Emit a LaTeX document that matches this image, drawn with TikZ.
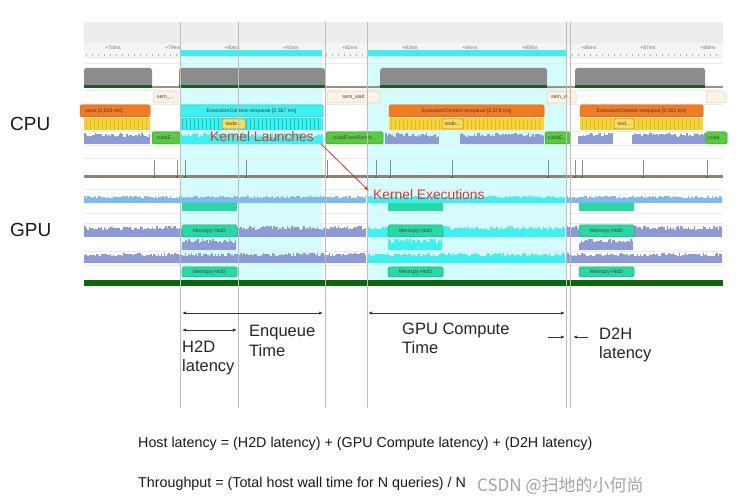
\documentclass[tikz,border=0pt]{standalone}
\usepackage{fontspec}
\setmainfont{Liberation Sans}
\newfontfamily\cjk{Noto Sans CJK SC}
\usetikzlibrary{arrows.meta}
\definecolor{hdr}{HTML}{EDEDED}
\definecolor{rul}{HTML}{F5F5F5}
\definecolor{hl}{HTML}{D4FEFE}
\definecolor{hlstrip}{HTML}{3DEFEF}
\definecolor{vline}{HTML}{BDBDBD}
\definecolor{blk}{HTML}{8C8C8C}
\definecolor{dgreen}{HTML}{1F5A2E}
\definecolor{mbrown}{HTML}{A48E80}
\definecolor{cream}{HTML}{FFF4E4}
\definecolor{creamb}{HTML}{E2C9A8}
\definecolor{orng}{HTML}{F47B20}
\definecolor{orngb}{HTML}{D0600E}
\definecolor{cyn}{HTML}{3CF1F1}
\definecolor{cynb}{HTML}{1CC4C4}
\definecolor{ylw}{HTML}{F6D53A}
\definecolor{ylwd}{HTML}{E4BC1C}
\definecolor{peri}{HTML}{8D9AD8}
\definecolor{grn}{HTML}{5ACB40}
\definecolor{grnb}{HTML}{2F9A22}
\definecolor{ltblue}{HTML}{7CBAF0}
\definecolor{mteal}{HTML}{26DAA4}
\definecolor{mtealb}{HTML}{12A87A}
\definecolor{barg}{HTML}{0B650B}
\definecolor{kred}{HTML}{E8302C}
\definecolor{wmk}{HTML}{A3A3A3}
\definecolor{dimc}{HTML}{333333}
\newcommand\mywave[5]{%
  \pgfmathtruncatemacro\wvn{max(0,(#3-#2)/1.5-1)}%
  \foreach \i in {0,...,\wvn}{%
    \fill[#1] ({#2+1.5*\i},#5) rectangle ({#2+1.5*\i+1.5},{#4+(#5-#4)*(0.08+0.32*rnd)});}%
}
\newcommand\mystripe[6]{%
  \fill[#1] (#3,#5) rectangle (#4,#6);
  \pgfmathtruncatemacro\stn{max(0,(#4-#3)/4-1)}%
  \foreach \k in {0,...,\stn}{\draw[#2, line width=0.5pt] ({#3+2+4*\k},#5) -- ({#3+2+4*\k},#6);}%
}
\newcommand\mybox[6]{%
  \draw[#1] (#2,#3) rectangle (#4,#5);
  \node[tinyt] at ({(#2+#4)/2},{(#3+#5)/2}) {#6};%
}
\begin{document}
\begin{tikzpicture}[x=1pt,y=-1pt,
  lab/.style={font=\fontsize{16.5}{19}\selectfont, inner sep=0pt, anchor=base west, text=black!85},
  frm/.style={font=\fontsize{14.3}{17}\selectfont, inner sep=0pt, anchor=base west, text=black!90},
  side/.style={font=\fontsize{19}{22}\selectfont, inner sep=0pt, anchor=base west, text=black!90},
  klab/.style={font=\fontsize{13.8}{16}\selectfont, inner sep=0pt, anchor=base west, text=kred},
  tinyt/.style={font=\fontsize{5.2}{6}\selectfont, inner sep=0pt, text=black!75},
  rulet/.style={font=\fontsize{5}{6}\selectfont, inner sep=0pt, text=black!55},
  semb/.style={fill=cream, draw=creamb, line width=0.5pt, rounded corners=1.5pt},
  orb/.style={fill=orng, draw=orngb, line width=0.5pt, rounded corners=1.5pt},
  cyb/.style={fill=cyn, draw=cynb, line width=0.5pt, rounded corners=1.5pt},
  ndb/.style={fill=ylw!80!white, draw=ylwd!80!black, line width=0.5pt, rounded corners=1.5pt},
  cub/.style={fill=grn, draw=grnb, line width=0.5pt, rounded corners=1.5pt},
  teb/.style={fill=mteal, draw=mtealb, line width=0.5pt, rounded corners=1.5pt},
  sep/.style={draw=black!8, line width=0.5pt},
  vl/.style={draw=vline, line width=0.9pt},
  dimarrow/.style={draw=dimc, line width=0.8pt, {Latex[length=4pt,width=3.2pt]}-{Latex[length=4pt,width=3.2pt]}},
  onearrow/.style={draw=dimc, line width=0.8pt, -{Latex[length=4pt,width=3.2pt]}},
  karrow/.style={draw=kred, line width=0.8pt, -{Latex[length=5pt,width=3.6pt]}}
]
\useasboundingbox (0,0) rectangle (736,502);
\fill[white] (0,0) rectangle (736,502);
\pgfmathsetseed{7}
% header
\fill[hdr] (84,22) rectangle (723,43);
\fill[rul] (84,43) rectangle (723,57);
\draw[sep] (84,57) -- (723,57);
\foreach \k in {0,...,105} {\draw[black!30, line width=0.4pt] ({86+6*\k},54) -- ({86+6*\k},56);}
\foreach \lx/\lt in {113/+78ms,173/+79ms,232/+80ms,291/+81ms,350/+82ms,410/+83ms,470/+84ms,530/+85ms,589/+86ms,648/+87ms,708/+88ms}
  {\node[rulet] at (\lx,47.5) {\lt};}
% highlights
\fill[hlstrip] (181,50) rectangle (322,56);
\fill[hlstrip] (367,50) rectangle (566,56);
\fill[hl] (181,57) rectangle (322,283);
\fill[hl] (367,57) rectangle (566,283);
% separators
\foreach \sy in {63,90,104,131,145,158,189,213,223,251,265} {\draw[sep] (84,\sy) -- (723,\sy);}
% gray blocks
\fill[mbrown] (84,86) rectangle (723,88.5);
\foreach \ga/\gb in {84/152,179/325,380/547,575/705} {
  \fill[blk] (\ga,86) -- (\ga,70) -- ({\ga+2},68) -- ({\gb-2},68) -- (\gb,70) -- (\gb,86) -- cycle;
  \fill[dgreen] (\ga,85.5) rectangle (\gb,88);
}
% sem row
\mybox{semb}{153}{92}{178}{103}{sem\_...}
\mybox{semb}{327}{92}{380}{103}{sem\_wait}
\mybox{semb}{547}{92}{576}{103}{sem\_w...}
\draw[semb] (706,92) rectangle (726,103);
% orange row
\draw[orb] (80,105) rectangle (150,117);
\node[tinyt, anchor=west] at (85,111) {ueue [2.554 ms]};
\mybox{cyb}{180}{105}{323}{117}{ExecutionContext::enqueue [2.367 ms]}
\mybox{orb}{389}{105}{544}{117}{ExecutionContext::enqueue [2.578 ms]}
\mybox{orb}{580}{105}{703}{117}{ExecutionContext::enqueue [2.061 ms]}
% yellow row
\mystripe{ylw}{ylwd}{84}{150}{118}{130}
\mystripe{cyn}{cynb}{180}{323}{118}{130}
\mystripe{ylw}{ylwd}{389}{544}{118}{130}
\mystripe{ylw}{ylwd}{580}{703}{118}{130}
\mybox{ndb}{222}{119}{245}{129}{node...}
\mybox{ndb}{442}{119}{463}{129}{node...}
\mybox{ndb}{614}{119}{634}{129}{nod...}
% cpu api row
\mywave{peri}{84}{150}{132}{144}
\mywave{cyn}{180}{323}{132}{144}
\mywave{peri}{385}{440}{132}{144}
\mywave{peri}{460}{545}{132}{144}
\mywave{peri}{578}{613}{132}{144}
\mywave{peri}{632}{706}{132}{144}
\mybox{cub}{152}{132}{180}{144}{cudaE...}
\mybox{cub}{326}{132}{383}{144}{cudaEventSynch...}
\mybox{cub}{545}{132}{570}{144}{cudaE...}
\draw[cub] (706,132) rectangle (727,144);
\node[tinyt, anchor=west] at (708,138) {cuda};
% ticks row
\fill[mbrown!90!black] (84,175.5) rectangle (723,178.5);
\foreach \t in {154,177,185,246,327,376,390,452,548,575,582,643,707} {
  \draw[black!45, line width=0.6pt] (\t,160) -- (\t,176);
  \fill[dgreen] (\t,177) circle (0.9);
}
% gpu rows
\mywave{ltblue}{84}{367}{195}{203}
\mywave{cyn}{367}{566}{195}{203}
\mywave{ltblue}{566}{723}{195}{203}
\fill[mteal] (182,203.5) rectangle (237,211);
\fill[mteal] (388,203.5) rectangle (443,211);
\fill[mteal] (579,203.5) rectangle (634,211);
\mywave{peri}{84}{367}{225}{237}
\mywave{cyn}{367}{566}{225}{237}
\mywave{peri}{566}{723}{225}{237}
\mywave{peri}{182}{237}{238}{250}
\mywave{cyn}{388}{443}{238}{250}
\mywave{peri}{579}{634}{238}{250}
\mywave{peri}{84}{367}{252}{263}
\mywave{cyn}{367}{566}{252}{263}
\mywave{peri}{566}{723}{252}{263}
\foreach \mx in {182,388,579} {
  \mybox{teb}{\mx}{225}{\mx+55}{237}{Memcpy HtoD}
  \mybox{teb}{\mx}{267}{\mx+55}{277}{Memcpy HtoD}
}
\fill[barg] (84,280) rectangle (723,286);
% vertical marker lines
\foreach \vx in {180,238,325,367,566,570} {\draw[vl] (\vx,22) -- (\vx,408);}
% labels
\node[side] (cpu) at (10,131) {CPU};
\node[side] (gpu) at (10,237) {GPU};
\node[klab] (kl) at (210,142) {Kernel Launches};
\node[klab] (ke) at (373,200) {Kernel Executions};
\coordinate (ka) at (321,144);
\coordinate (kb) at (369,191);
\draw[karrow] (ka) -- (kb);
% dimension arrows
\coordinate (a1) at (182,313); \coordinate (a2) at (323,313);
\coordinate (b1) at (182,330); \coordinate (b2) at (237,330);
\coordinate (c1) at (368,313); \coordinate (c2) at (565,313);
\coordinate (d1) at (548,337); \coordinate (d2) at (565,337);
\coordinate (e1) at (588,337); \coordinate (e2) at (573,337);
\draw[dimarrow] (a1) -- (a2);
\draw[dimarrow] (b1) -- (b2);
\draw[dimarrow] (c1) -- (c2);
\draw[onearrow] (d1) -- (d2);
\draw[onearrow] (e1) -- (e2);
\node[lab] (enq1) at (249,337) {Enqueue};
\node[lab] (enq2) at (249,356) {Time};
\node[lab] (h2d1) at (182,353) {H2D};
\node[lab] (h2d2) at (182,372) {latency};
\node[lab] (gpc1) at (402,335) {GPU Compute};
\node[lab] (gpc2) at (402,354) {Time};
\node[lab] (d2h1) at (599,340) {D2H};
\node[lab] (d2h2) at (599,359) {latency};
\node[frm] (host) at (138,447) {Host latency = (H2D latency) + (GPU Compute latency) + (D2H latency)};
\node[frm] (thr) at (138,487) {Throughput = (Total host wall time for N queries) / N};
\node[font=\fontsize{17}{19}\selectfont\cjk, inner sep=0pt, anchor=base west, text=wmk] (wm) at (477,491) {CSDN @扫地的小何尚};
\end{tikzpicture}
\end{document}
